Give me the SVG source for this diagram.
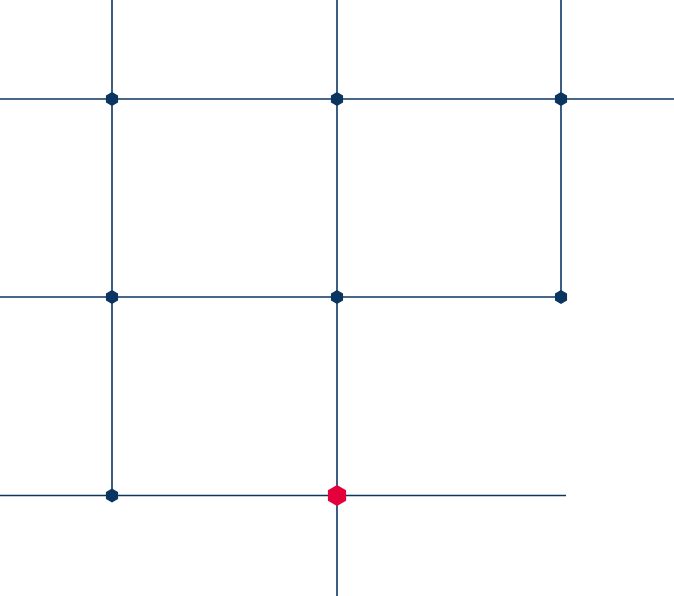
<svg xmlns="http://www.w3.org/2000/svg" width="674" height="596" viewBox="0 0 674 596">
<style>
.ln{stroke:#0b3561;stroke-width:1.6;fill:none}
.nd{fill:#0b3561}
.hl{fill:#e4003b}
</style>
<defs>
<polygon id="hs" points="0,-7 6.06,-3.5 6.06,3.5 0,7 -6.06,3.5 -6.06,-3.5"/>
<polygon id="hb" points="0,-10.5 9.1,-5.25 9.1,5.25 0,10.5 -9.1,5.25 -9.1,-5.25"/>
</defs>
<rect width="674" height="596" fill="#ffffff"/>
<g id="connectors">
<line class="ln" x1="112" y1="0" x2="112" y2="495"/>
<line class="ln" x1="337" y1="0" x2="337" y2="596"/>
<line class="ln" x1="561" y1="0" x2="561" y2="297"/>
<line class="ln" x1="0" y1="99" x2="674" y2="99"/>
<line class="ln" x1="0" y1="297" x2="561" y2="297"/>
<line class="ln" x1="0" y1="495.5" x2="566" y2="495.5"/>
</g>
<g id="n1"><use href="#hs" class="nd" x="112" y="99"/></g>
<g id="n2"><use href="#hs" class="nd" x="337" y="99"/></g>
<g id="n3"><use href="#hs" class="nd" x="561" y="99"/></g>
<g id="n4"><use href="#hs" class="nd" x="112" y="297"/></g>
<g id="n5"><use href="#hs" class="nd" x="337" y="297"/></g>
<g id="n6"><use href="#hs" class="nd" x="561" y="297"/></g>
<g id="n7"><use href="#hs" class="nd" x="112" y="495.5"/></g>
<g id="n8"><use href="#hb" class="hl" x="337" y="495.5"/></g>
</svg>
